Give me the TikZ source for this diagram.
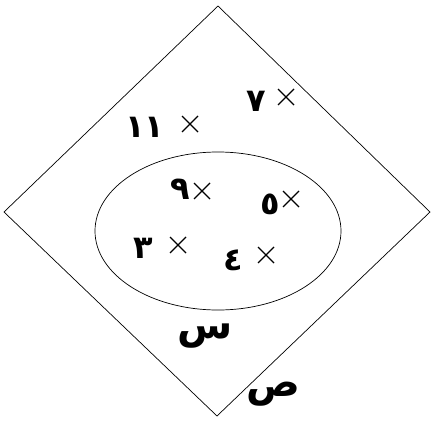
\documentclass[tikz,border=0pt]{standalone}
\usepackage{fontspec}
\TeXXeTstate=1
\newfontfamily\arabicfont[Script=Arabic]{DejaVu Sans}
\tikzset{
  digit/.style={inner sep=0pt, font=\arabicfont\bfseries\fontsize{32}{32}\selectfont},
  cross/.style={inner sep=0pt, minimum size=18pt, path picture={
      \draw[line width=1.4pt] ([shift={(1pt,-1pt)}]path picture bounding box.north west) -- ([shift={(-1pt,1pt)}]path picture bounding box.south east)
        ([shift={(-1pt,-1pt)}]path picture bounding box.north east) -- ([shift={(1pt,1pt)}]path picture bounding box.south west);}},
  setlabel/.style={inner sep=0pt, font=\arabicfont\bfseries\fontsize{40}{40}\selectfont},
  shapeline/.style={draw, line width=0.7pt}
}
\begin{document}
\begin{tikzpicture}[x=1pt,y=-1pt]
\useasboundingbox (0,0) rectangle (431,425);
\coordinate (T) at (218,6);
\coordinate (L) at (4,212);
\coordinate (B) at (217,416);
\coordinate (R) at (430,212);
\draw[shapeline] (T) -- (R) -- (B) -- (L) -- cycle;
\draw[shapeline] (218,231) ellipse [x radius=123, y radius=79];
% outside
\node[digit] (d7) at (256,101) {\beginR ٧\endR};
\node[cross] (c7) at (286,97) {};
\node[digit] (d11) at (145,127) {\beginR ١١\endR};
\node[cross] (c11) at (190,124) {};
% inside
\node[digit] (d9) at (180,189) {\beginR ٩\endR};
\node[cross] (c9) at (202,191) {};
\node[digit] (d5) at (270,204) {\beginR ٥\endR};
\node[cross] (c5) at (291,199) {};
\node[digit] (d3) at (143,248) {\beginR ٣\endR};
\node[cross] (c3) at (178,245) {};
\node[digit] (d4) at (233,260) {\beginR ٤\endR};
\node[cross] (c4) at (266,255) {};
% set labels
\node[setlabel] (s) at (205,336) {\beginR س\endR};
\node[setlabel] (p) at (273,394) {\beginR ص\endR};
\end{tikzpicture}
\end{document}
